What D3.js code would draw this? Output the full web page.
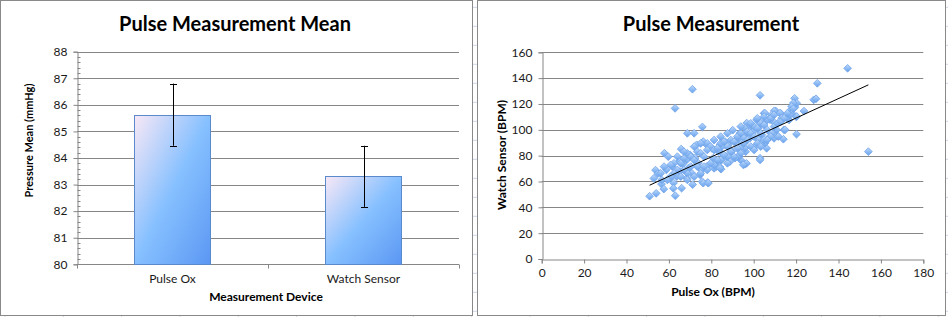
<!DOCTYPE html>
<html><head><meta charset="utf-8">
<script src="https://cdn.jsdelivr.net/npm/d3@7"></script>
<style>body{margin:0;background:#fff}svg{display:block}text{font-family:Lato,"Open Sans",sans-serif}</style>
</head><body>
<svg id="c" width="948" height="317"></svg>
<script>
// ---- Data ----
const barCategories = ["Pulse Ox", "Watch Sensor"];
const barMeans = [85.63, 83.31];
const barErrors = [1.17, 1.15];
const barTicks = [80, 81, 82, 83, 84, 85, 86, 87, 88];

const scatterXTicks = [0, 20, 40, 60, 80, 100, 120, 140, 160, 180];
const scatterYTicks = [0, 20, 40, 60, 80, 100, 120, 140, 160];
const trendLine = [[50.9, 57.1], [154.1, 134.8]];
const pulseOx = [144.3,154.1,71.1,62.9,103,130,128.3,129.4,119.3,123.7,120.2,114,103,106.1,95.8,96.6,75.8,68.7,71.9,90.1,57.9,59.7,65.8,50.9,54,63,53.7,54.8,52.9,56.5,57.6,58.8,61.6,62.2,62.1,71.2,75.7,78.3,81.3,84.1,84.6,93.9,93.1,96.2,109.6,110.8,114.3,110.4,112.7,104.9,116.7,117.5,119.5,120.3,120,97,99.7,118.7,117.9,117.9,120.3,
60.5,56.6,63.7,65.2,64.9,66.5,68.4,69.2,70.8,68.4,70,72.3,73.9,76.2,77.8,80.2,73.1,75.5,74.7,77.8,80.9,82.5,84.9,86.5,84.1,66,
105.3,109.7,112.4,118.7,101.4,103.8,107.7,110,113.2,115.6,117.1,114.8,111.6,108.5,110.8,106.9,105.3,103.8,102.2,99.8,98.3,99.1,96.7,95.9,96.7,93.5,92.7,91.2,94.3,95.9,93.5,92.7,89.6,88,86.5,84.9,83.3,87.3,88.8,84.9,82.5,91.2,100.6,102.2,108.5,84.1,
65.6,67.1,68.7,70.3,71.9,73.4,75,76.6,78.1,79.6,81.3,82.9,84.4,86,87.6,89.2,90.7,92.3,93.9,95.4,97,98.6,100.2,101.7,103.3,104.9,106.4,108,109.6,
68.7,71.9,75,78.1,81.3,84.4,87.6,90.7,87.6,93.9,98.6,101.7,104.9,108,64,65.6,68.7,62.4,60.8,59.3,
64,67.1,71.9,75,81.3,84.4,87.6,93.9,98.6,101.7,104.9,78.1,73.4,76.6,79.7,82.9,86,89.2,92.3,95.4,97,100.2,103.3,106.4,109.6,111.2,112.7,114.3,115.9,106.4,103.3,100.2,70.3,67.1,62.4,60.8,57.7,56.1,76.2,78.6,95.1,103];
const watchSensor = [147.6,83.1,131.4,116.6,126.7,136,123.2,124,124.4,114.5,96.6,92.7,78,85.7,73.3,74,102.2,97.3,97.3,99.7,81.9,79.2,85.1,48.6,50.8,49,68.8,66,62.4,58,54.1,69,71.5,58.9,54.7,57.6,59.9,59.3,70.2,71.2,69.5,76.6,79.2,83.1,93.4,96,100,114.6,112.8,112.8,107.6,115.4,117.5,120.6,110.2,102.5,101.2,120.7,118.1,112.9,110.3,
62.6,61.2,63.8,67.7,75.4,73.4,76.7,70.3,66.4,62.6,80.6,78.1,74.2,90.9,88.4,85.8,88.4,69,65.1,71.6,78.1,71.6,81.9,88.4,88.4,54.8,
112.9,114.7,112.9,116.3,107.8,106.5,107.8,105.2,109.1,109.1,111.6,100,94.8,97.4,100,93.6,89.7,96.1,92.2,98.7,93.6,103.9,105.2,101.3,97.4,97.4,93.6,90.9,89.7,85.8,85.8,79.3,83.2,88.4,90.9,87,83.2,79.3,75.4,76.7,75.4,78.1,87,101.3,111.6,70.3,
74.1,77.9,81.8,79.2,76.6,83.1,81.8,79.2,89.5,87,84.4,85.7,89.5,90.8,87,92.1,90.8,94.7,97.3,93.4,98.6,97.3,102.5,101.2,105,103.7,107.6,108.9,111.5,
66.3,63.7,66.3,68.9,72.8,76.6,74.1,79.2,79.2,81.8,87,89.5,92.1,94.7,68.9,63.7,61.2,66.3,63.7,61.2,
79.2,83.1,87,89.5,92.1,94.7,97.3,102.5,105,108.9,110.2,84.4,71.5,71.5,74.1,76.6,80.5,83.1,85.7,89.5,92.1,94.7,97.3,99.9,102.5,105,106.3,108.9,112.8,92.1,87,84.4,71.5,68.9,74.1,72.8,71.5,66.3,58.7,58.7,72.9,76.7];

const svg = d3.select("#c");
const defs = svg.append("defs");

// spreadsheet background grid
const cellCols = d3.range(5, 948, 58.33);
const cellRows = d3.range(7.3, 317, 19);
svg.append("g").selectAll("line.v").data(cellCols).join("line")
  .attr("x1", d => d).attr("x2", d => d).attr("y1", 0).attr("y2", 317)
  .attr("stroke", "#d0d7e5").attr("stroke-width", 1);
svg.append("g").selectAll("line.h").data(cellRows).join("line")
  .attr("y1", d => d).attr("y2", d => d).attr("x1", 0).attr("x2", 948)
  .attr("stroke", "#d0d7e5").attr("stroke-width", 1);

// chart frames
svg.append("rect").attr("x", 0.5).attr("y", 0.5).attr("width", 472).attr("height", 315)
  .attr("fill", "#fff").attr("stroke", "#898989");
svg.append("rect").attr("x", 477.5).attr("y", 0.5).attr("width", 468).attr("height", 315)
  .attr("fill", "#fff").attr("stroke", "#898989");

// gradients
const bg = defs.append("linearGradient").attr("id", "barGrad")
  .attr("x1", "0").attr("y1", "0").attr("x2", "1").attr("y2", "1");
bg.append("stop").attr("offset", "0").attr("stop-color", "#f8e8f6");
bg.append("stop").attr("offset", "0.5").attr("stop-color", "#86c0ff");
bg.append("stop").attr("offset", "1").attr("stop-color", "#5b97f3");
const mg = defs.append("linearGradient").attr("id", "mkGrad")
  .attr("x1", "0").attr("y1", "0").attr("x2", "1").attr("y2", "1");
mg.append("stop").attr("offset", "0").attr("stop-color", "#c3dcfb");
mg.append("stop").attr("offset", "0.55").attr("stop-color", "#8ab9f4");
mg.append("stop").attr("offset", "1").attr("stop-color", "#6ba1ec");

const gridColor = "#868686";

// ---------- LEFT: bar chart ----------
{
  const x0 = 77, x1 = 459, yT = 51.7, yB = 264.3;
  const x = d3.scaleBand().domain(barCategories).range([x0, x1]).paddingInner(0.6).paddingOuter(0.3);
  const y = d3.scaleLinear().domain([80, 88]).range([yB, yT]);
  const g = svg.append("g");
  // gridlines
  g.selectAll("line.grid").data(barTicks.slice(1)).join("line")
    .attr("x1", x0).attr("x2", x1).attr("y1", d => Math.round(y(d)) + 0.5).attr("y2", d => Math.round(y(d)) + 0.5)
    .attr("stroke", gridColor);
  // y axis
  const ya = g.append("g").attr("transform", `translate(${Math.round(x0)+0.5},0)`)
    .call(d3.axisLeft(y).tickValues(barTicks).tickSize(4).tickPadding(6).tickFormat(d3.format("d")));
  ya.select(".domain").attr("stroke", gridColor);
  ya.selectAll(".tick line").attr("stroke", gridColor);
  ya.selectAll(".tick text").attr("font-size", 12).attr("fill", "#1a1a1a").attr("font-family", "Lato,sans-serif");
  // minor ticks
  const minor = d3.range(80, 88.001, 0.2).filter(v => Math.abs(v - Math.round(v)) > 0.01);
  g.selectAll("line.minor").data(minor).join("line")
    .attr("x1", Math.round(x0)+0.5).attr("x2", Math.round(x0)+3.5)
    .attr("y1", d => Math.round(y(d)) + 0.5).attr("y2", d => Math.round(y(d)) + 0.5)
    .attr("stroke", gridColor);
  // x axis
  const yb = Math.round(yB) + 0.5;
  g.append("line").attr("x1", x0).attr("x2", x1).attr("y1", yb).attr("y2", yb).attr("stroke", gridColor);
  const catTicks = [x0, (x0 + x1) / 2, x1];
  g.selectAll("line.ct").data(catTicks).join("line")
    .attr("x1", d => Math.round(d) + 0.5).attr("x2", d => Math.round(d) + 0.5)
    .attr("y1", yb).attr("y2", yb + 4).attr("stroke", gridColor);
  // bars
  g.selectAll("rect.bar").data(barCategories).join("rect")
    .attr("x", d => Math.round(x(d)) + 0.5).attr("width", Math.round(x.bandwidth()))
    .attr("y", (d, i) => Math.round(y(barMeans[i])) + 0.5)
    .attr("height", (d, i) => yb - Math.round(y(barMeans[i])) - 0.5)
    .attr("fill", "url(#barGrad)").attr("stroke", "#5a8acb").attr("stroke-width", 1);
  // error bars
  barCategories.forEach((c, i) => {
    const cx = Math.round(x(c) + x.bandwidth() / 2) + 0.5;
    const t = y(barMeans[i] + barErrors[i]), b = y(barMeans[i] - barErrors[i]);
    g.append("line").attr("x1", cx).attr("x2", cx).attr("y1", t).attr("y2", b).attr("stroke", "#000");
    [t, b].forEach(v => g.append("line").attr("x1", cx - 3.5).attr("x2", cx + 3.5)
      .attr("y1", Math.round(v) + 0.5).attr("y2", Math.round(v) + 0.5).attr("stroke", "#000"));
  });
  // category labels
  g.selectAll("text.cat").data(barCategories).join("text")
    .attr("x", d => x(d) + x.bandwidth() / 2).attr("y", 283)
    .attr("text-anchor", "middle").attr("font-size", 12).attr("fill", "#1a1a1a").text(d => d);
  // titles
  g.append("text").attr("x", 235).attr("y", 31).attr("text-anchor", "middle")
    .attr("font-size", 20).attr("font-weight", "bold").attr("fill", "#000").text("Pulse Measurement Mean");
  g.append("text").attr("x", 266).attr("y", 301).attr("text-anchor", "middle")
    .attr("font-size", 12).attr("font-weight", "bold").attr("fill", "#000").text("Measurement Device");
  g.append("text").attr("transform", "translate(33,140.5) rotate(-90)").attr("text-anchor", "middle")
    .attr("font-size", 11).attr("font-weight", "bold").attr("fill", "#000").text("Pressure Mean (mmHg)");
}

// ---------- RIGHT: scatter ----------
{
  const x0 = 541.7, x1 = 923.3, yT = 52.3, yB = 259;
  const x = d3.scaleLinear().domain([0, 180]).range([x0, x1]);
  const y = d3.scaleLinear().domain([0, 160]).range([yB, yT]);
  const g = svg.append("g");
  g.selectAll("line.grid").data(scatterYTicks.slice(1)).join("line")
    .attr("x1", x0).attr("x2", x1).attr("y1", d => Math.round(y(d)) + 0.5).attr("y2", d => Math.round(y(d)) + 0.5)
    .attr("stroke", gridColor);
  const ya = g.append("g").attr("transform", `translate(${Math.round(x0)+0.5},0)`)
    .call(d3.axisLeft(y).tickValues(scatterYTicks).tickSize(4).tickPadding(6));
  ya.select(".domain").attr("stroke", gridColor);
  ya.selectAll(".tick line").attr("stroke", gridColor);
  ya.selectAll(".tick text").attr("font-size", 12).attr("fill", "#1a1a1a").attr("font-family", "Lato,sans-serif");
  const xa = g.append("g").attr("transform", `translate(0,${Math.round(yB)+0.5})`)
    .call(d3.axisBottom(x).tickValues(scatterXTicks).tickSize(4).tickPadding(5));
  xa.select(".domain").attr("stroke", gridColor);
  xa.selectAll(".tick line").attr("stroke", gridColor);
  xa.selectAll(".tick text").attr("font-size", 12).attr("fill", "#1a1a1a").attr("font-family", "Lato,sans-serif");
  // points
  const sym = d3.symbol().type(d3.symbolSquare).size(30);
  g.selectAll("path.pt").data(pulseOx.map((v, i) => [v, watchSensor[i]])).join("path")
    .attr("d", sym)
    .attr("transform", d => `translate(${x(d[0])},${y(d[1])}) rotate(45)`)
    .attr("fill", "url(#mkGrad)").attr("stroke", "#74a6ea").attr("stroke-width", 0.8);
  // trend line
  g.append("path").datum(trendLine)
    .attr("d", d3.line().x(d => x(d[0])).y(d => y(d[1])))
    .attr("stroke", "#000").attr("stroke-width", 1).attr("fill", "none");
  g.append("text").attr("x", 711).attr("y", 31).attr("text-anchor", "middle")
    .attr("font-size", 20).attr("font-weight", "bold").attr("fill", "#000").text("Pulse Measurement");
  g.append("text").attr("x", 713).attr("y", 296).attr("text-anchor", "middle")
    .attr("font-size", 12).attr("font-weight", "bold").attr("fill", "#000").text("Pulse Ox (BPM)");
  g.append("text").attr("transform", "translate(505.5,155) rotate(-90)").attr("text-anchor", "middle")
    .attr("font-size", 12).attr("font-weight", "bold").attr("fill", "#000").text("Watch Sensor (BPM)");
}
</script>
</body></html>
